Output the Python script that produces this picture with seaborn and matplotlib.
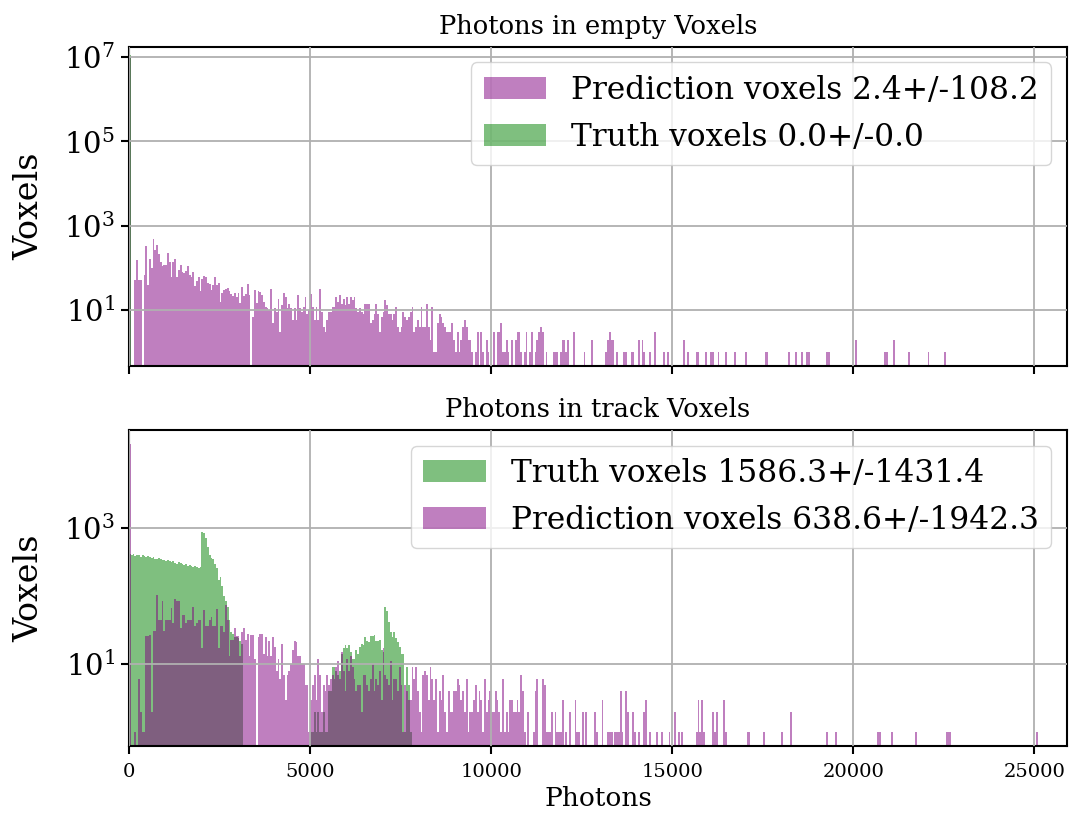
import numpy as np
import pandas as pd
import matplotlib
matplotlib.use("Agg")
import matplotlib.pyplot as plt
import seaborn as sns
from matplotlib.patches import Patch
from matplotlib.ticker import FixedLocator, LogFormatterSciNotation, NullLocator, MultipleLocator

# ---------------------------------------------------------------------------
# Histogram contents: counts per 50-photon bin
# ---------------------------------------------------------------------------
BIN_WIDTH = 50
N_BINS = 506

# Empty voxels -- prediction, bins 0..199
pred_empty_dense = [
    10500000, 0, 0,
    52, 155, 52, 52, 0, 70, 330, 40, 165, 100,
    480, 260, 350, 220, 135, 110, 120, 115, 230, 140,
    60, 140, 160, 60, 90, 120, 80, 75, 85, 110,
    70, 60, 80, 38, 50, 60, 28, 55, 65, 60,
    45, 42, 30, 40, 60, 40, 45, 16, 25, 30,
    32, 33, 28, 24, 22, 26, 20, 26, 15, 35,
    22, 24, 41, 23, 0, 7, 30, 15, 28, 27,
    23, 16, 12, 11, 10, 31, 5, 11, 9, 18,
    3, 13, 26, 21, 11, 14, 11, 6, 11,
    6, 23, 11, 9, 12, 20, 8, 10,
    24, 12, 6, 12, 6, 31, 9, 4, 3, 6,
    9, 9, 12, 12, 21, 16, 23, 14, 18, 13,
    21, 14, 21, 17, 20, 11, 9, 11, 9, 8,
    14, 14, 14, 5, 6, 8, 14, 8, 3, 7,
    9, 17, 13, 8, 8, 6, 8, 12, 4, 3,
    4, 9, 7, 6, 7, 9, 12, 3, 4, 6,
    4, 12, 4, 4, 14, 4, 2, 12, 1, 1,
    5, 8, 7, 5, 4, 3, 3, 3, 5, 2,
    1, 3, 1, 2, 4, 6, 4, 2, 2, 1,
    0, 1, 3, 0, 3, 1, 0, 2, 1, 0,
]
# Empty voxels -- prediction, sparse tail (bin start in photons, count)
pred_empty_tail_photons = [
    10050, 10150, 10200, 10250, 10300, 10350, 10400, 10450, 10550, 10650,
    10700, 10750, 10800, 10900, 10950, 11050, 11100, 11200, 11250, 11300,
    11350, 11400, 11500, 11700, 11750, 11800, 11900, 11950, 12000, 12050,
    12100, 12250, 12550, 12750, 13150, 13200, 13250, 13300, 13350, 13450,
    13650, 13700, 13850, 13900, 14050, 14150, 14200, 14350, 14500, 14750,
    14850, 15300, 15400, 15650, 15700, 15900, 16050, 16100, 16250, 16450,
    16700, 17000, 17550, 17600, 18200, 18400, 18550, 18700, 18750, 19250,
    19300, 20050, 20850, 20900, 21100, 21500, 22050, 22500,
]
pred_empty_tail_counts = [
    3, 3, 3, 5, 1, 1, 2, 1, 2, 2,
    3, 3, 1, 1, 3, 1, 3, 1, 2, 3,
    4, 3, 1, 1, 1, 1, 1, 2, 2, 1,
    2, 3, 1, 2, 1, 2, 3, 2, 2, 1,
    1, 1, 1, 1, 2, 2, 1, 1, 3, 1,
    1, 2, 1, 1, 1, 1, 1, 1, 1, 1,
    1, 1, 1, 1, 1, 1, 1, 1, 1, 1,
    1, 2, 1, 1, 2, 1, 1, 1,
]
# Empty voxels -- truth: everything sits in the zero bin
truth_empty_photons = [0]
truth_empty_counts = [11000000]

# Track voxels -- truth, two populated regions
truth_track_low = [  # bins 0..62
    420, 400, 410, 390, 405, 395, 380, 400, 385, 370,
    390, 375, 360, 370, 355, 350, 360, 345, 340, 335,
    330, 340, 325, 320, 330, 310, 300, 315, 305, 295,
    290, 300, 280, 285, 275, 270, 280, 265, 260, 270,
    880, 850, 700, 520, 400, 360, 350, 300, 260, 170,
    190, 140, 100, 85, 70, 45, 30, 28, 25, 25,
    24, 22, 20,
]
truth_track_high_start = 5000
truth_track_high = [  # bins 100..155
    1, 1, 2, 1, 2, 1, 1, 2, 1, 1,
    4, 4, 9, 9, 8, 7, 8, 14, 17, 19,
    17, 19, 15, 12, 12, 16, 14, 18, 20, 19,
    25, 22, 21, 26, 26, 27, 22, 22, 23, 16,
    15, 70, 60, 42, 30, 25, 30, 24, 21, 18,
    14, 14, 1, 9, 5, 1,
]

# Track voxels -- prediction, bins 0..199
pred_track_dense = [
    17000, 0, 0, 1, 0, 6, 2, 1, 1, 26,
    26, 27, 2, 31, 31, 105, 44, 44, 86, 31,
    44, 44, 44, 67, 40, 91, 86, 86, 34, 52,
    52, 40, 44, 45, 45, 70, 36, 40, 45, 45,
    17, 62, 36, 36, 44, 50, 36, 36, 65, 17,
    36, 36, 30, 75, 45, 13, 23, 23, 34, 26,
    26, 13, 30, 34, 23, 28, 13, 27, 27, 12,
    0, 25, 28, 28, 14, 25, 13, 22, 13, 25,
    18, 8, 12, 6, 20, 7, 3, 7, 8, 10,
    16, 22, 21, 13, 13, 10, 10, 5, 5, 1,
    3, 5, 7, 3, 12, 7, 2, 5, 4, 7,
    5, 6, 7, 6, 9, 11, 6, 15, 8, 4,
    12, 8, 13, 9, 6, 4, 5, 5, 2, 7,
    7, 5, 4, 6, 10, 4, 6, 5, 8, 3,
    17, 7, 6, 5, 11, 3, 6, 6, 4, 9,
    5, 1, 5, 4, 3, 3, 9, 6, 9, 4,
    2, 1, 7, 8, 7, 3, 9, 6, 3, 6,
    1, 4, 3, 7, 2, 1, 4, 2, 2, 4,
    4, 6, 5, 3, 4, 2, 6, 1, 2, 2,
    3, 5, 2, 4, 3, 1, 6, 2, 3, 4,
]
pred_track_tail_photons = [
    10000, 10050, 10100, 10150, 10200, 10250, 10300, 10350, 10400, 10450,
    10500, 10550, 10600, 10650, 10700, 10750, 10800, 10850, 10900, 11000,
    11150, 11200, 11250, 11400, 11450, 11500, 11550, 11600, 11650, 11750,
    11800, 11850, 11900, 11950, 12050, 12150, 12300, 12350, 12400, 12500,
    12600, 12850, 12900, 13050, 13200, 13250, 13300, 13400, 13450, 13500,
    13550, 13600, 13700, 13750, 13900, 13950, 14050, 14200, 14250, 14350,
    14550, 14700, 14900, 15050, 15150, 15250, 15650, 15700, 15750, 15800,
    15850, 16100, 16150, 16200, 16400, 16450, 17050, 17100, 17500, 18000,
    18250, 19250, 19500, 20650, 20700, 21050, 21700, 22550, 22600, 22650,
    25050,
]
pred_track_tail_counts = [
    2, 2, 4, 3, 2, 1, 6, 1, 2, 1,
    3, 3, 2, 2, 3, 2, 7, 4, 1, 2,
    1, 4, 6, 6, 5, 1, 1, 1, 2, 2,
    1, 1, 1, 3, 1, 2, 3, 1, 1, 2,
    2, 2, 1, 3, 1, 1, 1, 1, 1, 1,
    4, 1, 4, 2, 2, 1, 1, 2, 3, 1,
    1, 1, 1, 2, 1, 1, 1, 3, 1, 3,
    1, 2, 1, 2, 3, 1, 1, 1, 1, 1,
    2, 1, 1, 1, 1, 1, 1, 1, 1, 1,
    1,
]

# Legend texts
label_pred_empty = "Prediction voxels 2.4+/-108.2"
label_truth_empty = "Truth voxels 0.0+/-0.0"
label_truth_track = "Truth voxels 1586.3+/-1431.4"
label_pred_track = "Prediction voxels 638.6+/-1942.3"

# ---------------------------------------------------------------------------
edges = np.arange(N_BINS + 1) * BIN_WIDTH
centers = edges[:-1] + BIN_WIDTH / 2


def fill_counts(segments=(), sparse_photons=(), sparse_counts=()):
    """Assemble a full per-bin count array from dense runs and sparse entries."""
    out = np.zeros(N_BINS)
    for start_photons, values in segments:
        i0 = int(start_photons // BIN_WIDTH)
        out[i0:i0 + len(values)] = values
    for p, c in zip(sparse_photons, sparse_counts, strict=True):
        out[int(p // BIN_WIDTH)] = c
    return out


pred_empty = fill_counts([(0, pred_empty_dense)], pred_empty_tail_photons, pred_empty_tail_counts)
truth_empty = fill_counts(sparse_photons=truth_empty_photons, sparse_counts=truth_empty_counts)
truth_track = fill_counts([(0, truth_track_low), (truth_track_high_start, truth_track_high)])
pred_track = fill_counts([(0, pred_track_dense)], pred_track_tail_photons, pred_track_tail_counts)

PURPLE = "purple"
GREEN = "green"

plt.rcParams["font.family"] = "DejaVu Serif"
plt.rcParams["mathtext.fontset"] = "dejavuserif"

fig = plt.figure(figsize=(10.69, 8.21), dpi=100)
ax_top = fig.add_axes([0.1207, 0.554, 0.8775, 0.389])
ax_bot = fig.add_axes([0.1207, 0.0914, 0.8775, 0.385], sharex=ax_top)


def draw(ax, counts, color):
    df = pd.DataFrame({"photons": centers, "voxels": counts})
    sns.histplot(data=df, x="photons", weights="voxels", bins=list(edges),
                 color=color, alpha=0.5, linewidth=0, ax=ax)


draw(ax_top, pred_empty, PURPLE)
draw(ax_top, truth_empty, GREEN)
draw(ax_bot, truth_track, GREEN)
draw(ax_bot, pred_track, PURPLE)

for ax in (ax_top, ax_bot):
    ax.set_yscale("log")
    ax.set_xlim(0, 25900)
    ax.xaxis.set_major_locator(MultipleLocator(5000))
    ax.yaxis.set_minor_locator(NullLocator())
    ax.yaxis.set_major_formatter(LogFormatterSciNotation())
    ax.grid(True, color="#b0b0b0", linewidth=1.3)
    ax.set_axisbelow(False)
    for s in ax.spines.values():
        s.set_linewidth(1.5)
        s.set_color("black")
    ax.tick_params(axis="both", width=1.5, length=6, color="black")
    ax.tick_params(axis="y", labelsize=21, pad=4)
    ax.tick_params(axis="x", labelsize=14, pad=6)
    ax.set_ylabel("Voxels", fontsize=24, labelpad=14)

ax_top.set_ylim(0.47, 1.75e7)
ax_top.yaxis.set_major_locator(FixedLocator([1e1, 1e3, 1e5, 1e7]))
ax_top.tick_params(axis="x", labelbottom=False)
ax_top.set_xlabel("")
ax_top.set_title("Photons in empty Voxels", fontsize=18.5, pad=9)

ax_bot.set_ylim(0.63, 2.75e4)
ax_bot.yaxis.set_major_locator(FixedLocator([1e1, 1e3]))
ax_bot.set_xlabel("Photons", fontsize=19, labelpad=4)
ax_bot.set_title("Photons in track Voxels", fontsize=18.5, pad=9)

ax_top.legend(handles=[Patch(facecolor=PURPLE, alpha=0.5, label=label_pred_empty),
                       Patch(facecolor=GREEN, alpha=0.5, label=label_truth_empty)],
              loc="upper right", fontsize=22.5)
ax_bot.legend(handles=[Patch(facecolor=GREEN, alpha=0.5, label=label_truth_track),
                       Patch(facecolor=PURPLE, alpha=0.5, label=label_pred_track)],
              loc="upper right", fontsize=22.5)

fig.savefig("out.png", dpi=100)
